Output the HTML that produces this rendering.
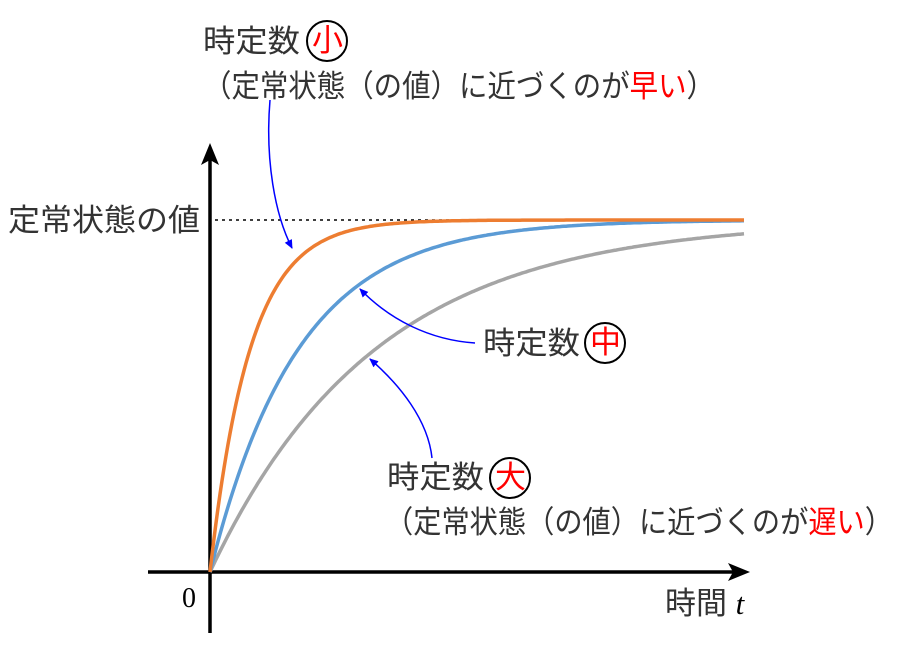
<!DOCTYPE html>
<html><head><meta charset="utf-8"><style>
html,body{margin:0;padding:0;background:#fff;}
svg{display:block;}
text{font-family:"Liberation Sans","Noto Sans CJK JP",sans-serif;fill:#333;font-size:31px;}
.r{fill:#f00;}
</style></head><body>
<svg width="904" height="652" viewBox="0 0 904 652" xmlns="http://www.w3.org/2000/svg">
<defs>
<marker id="ah" markerWidth="10" markerHeight="10" refX="8" refY="5" orient="auto" markerUnits="userSpaceOnUse"><path d="M0,1 L9,5 L0,9 z" fill="#00f"/></marker>
</defs>
<line x1="215" y1="220" x2="745" y2="220" stroke="#000" stroke-width="1.5" stroke-dasharray="3,4"/>
<line x1="148" y1="572" x2="735" y2="572" stroke="#000" stroke-width="3.5"/>
<path d="M750,572 L728,563 L733,572 L728,581 z" fill="#000"/>
<line x1="210" y1="633" x2="210" y2="158" stroke="#000" stroke-width="3.5"/>
<path d="M210,143 L201,165 L210,160 L219,165 z" fill="#000"/>
<path id="g" fill="none" stroke="#a5a5a5" stroke-width="3.5"/>
<path id="b" fill="none" stroke="#5b9bd5" stroke-width="3.5"/>
<path id="o" fill="none" stroke="#ed7d31" stroke-width="3.5"/>
<path d="M270,100 C265,160 275,215 292,248" fill="none" stroke="#00f" stroke-width="1.5" marker-end="url(#ah)"/>
<path d="M475,343 C430,340 390,320 360,289" fill="none" stroke="#00f" stroke-width="1.5" marker-end="url(#ah)"/>
<path d="M432,458 C428,420 400,385 370,359" fill="none" stroke="#00f" stroke-width="1.5" marker-end="url(#ah)"/>
<text x="203" y="52" textLength="97" lengthAdjust="spacingAndGlyphs">時定数</text>
<circle cx="327" cy="41" r="20" fill="none" stroke="#000" stroke-width="2"/>
<text x="312" y="51" class="r" font-size="28">小</text>
<text x="203" y="97" textLength="512" lengthAdjust="spacingAndGlyphs">（定常状態（の値）に近づくのが<tspan class="r">早い</tspan>）</text>
<text x="8" y="231" textLength="192" lengthAdjust="spacingAndGlyphs">定常状態の値</text>
<text x="483" y="354" textLength="97" lengthAdjust="spacingAndGlyphs">時定数</text>
<circle cx="605" cy="343" r="20" fill="none" stroke="#000" stroke-width="2"/>
<text x="590" y="353" class="r" font-size="28">中</text>
<text x="387" y="488" textLength="97" lengthAdjust="spacingAndGlyphs">時定数</text>
<circle cx="510" cy="478" r="20" fill="none" stroke="#000" stroke-width="2"/>
<text x="495" y="488" class="r" font-size="28">大</text>
<text x="385" y="533" textLength="508" lengthAdjust="spacingAndGlyphs">（定常状態（の値）に近づくのが<tspan class="r">遅い</tspan>）</text>
<text x="182" y="607" style="font-family:'Liberation Serif',serif;font-size:28px;fill:#000">0</text>
<text x="665" y="614">時間 <tspan style="font-family:'Liberation Serif',serif;font-style:italic;fill:#000">t</tspan></text>
</svg>
<script>
function mk(id,tau){var d="";for(var x=210;x<=745;x+=2){var y=572-352*(1-Math.exp(-(x-210)/tau));d+=(x==210?"M":"L")+x+","+y.toFixed(1)+" ";}document.getElementById(id).setAttribute("d",d);}
mk("g",165);mk("b",88);mk("o",40);
</script>
</body></html>
